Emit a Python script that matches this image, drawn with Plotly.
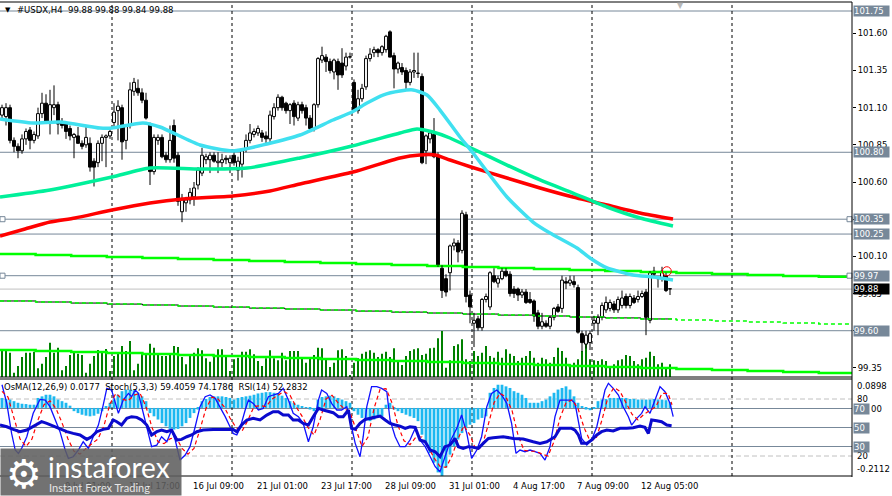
import plotly.graph_objects as go

W, H = 892, 496

# --- #USDX H4 candles ---
opens = [101.05, 101.04, 101.10, 100.88, 100.84, 100.81, 100.89, 100.95, 100.88, 100.91,
         101.06, 101.13, 101.00, 101.10, 101.12, 101.00, 100.99, 100.96, 100.90, 100.91,
         100.86, 100.85, 100.86, 100.74, 100.73, 100.86, 100.90, 100.91, 101.00, 101.08,
         101.10, 100.88, 100.98, 101.21, 101.23, 101.20, 101.15, 100.99, 100.67, 100.88,
         100.90, 100.78, 100.75, 100.98, 100.78, 100.40, 100.46, 100.48, 100.50, 100.58,
         100.66, 100.75, 100.75, 100.78, 100.73, 100.73, 100.76, 100.73, 100.78, 100.68,
         100.72, 100.82, 100.88, 100.92, 100.93, 100.93, 100.91, 100.89, 101.04, 101.10,
         101.17, 101.13, 101.08, 101.13, 101.03, 101.12, 101.10, 101.03, 100.96, 101.12,
         101.42, 101.44, 101.41, 101.34, 101.41, 101.40, 101.38, 101.44, 101.27, 101.08,
         101.16, 101.24, 101.43, 101.47, 101.49, 101.47, 101.49, 101.61, 101.45, 101.36,
         101.37, 101.35, 101.27, 101.34, 101.33, 101.31, 100.81, 100.89, 100.92, 100.78,
         100.02, 99.95, 99.99, 100.17, 100.19, 100.14, 100.38, 99.84, 99.65, 99.68,
         99.62, 99.81, 99.76, 99.97, 99.92, 99.95, 100.00, 99.98, 99.88, 99.88,
         99.84, 99.86, 99.81, 99.80, 99.72, 99.63, 99.65, 99.63, 99.69, 99.76,
         99.75, 99.93, 99.92, 99.93, 99.89, 99.58, 99.51, 99.52, 99.65, 99.65,
         99.69, 99.74, 99.75, 99.78, 99.74, 99.77, 99.83, 99.77, 99.82, 99.81,
         99.83, 99.86, 99.67, 100.00, 99.96, 99.95, 99.97, 99.88]
highs = [101.12, 101.13, 101.12, 100.90, 100.86, 100.92, 100.96, 100.97, 100.94, 101.10,
         101.20, 101.19, 101.22, 101.25, 101.14, 101.03, 101.01, 100.98, 100.93, 100.97,
         100.88, 100.97, 100.90, 100.76, 100.88, 100.92, 100.92, 100.97, 101.13, 101.15,
         101.12, 100.99, 101.27, 101.30, 101.29, 101.23, 101.20, 101.00, 100.92, 100.92,
         100.92, 100.80, 100.98, 101.02, 100.80, 100.52, 100.50, 100.56, 100.60, 100.70,
         100.83, 100.79, 100.80, 100.80, 100.80, 100.79, 100.78, 100.78, 100.82, 100.77,
         100.82, 100.92, 100.99, 100.96, 100.98, 100.95, 100.94, 101.08, 101.13, 101.19,
         101.18, 101.14, 101.13, 101.15, 101.14, 101.14, 101.12, 101.05, 101.13, 101.44,
         101.51, 101.46, 101.43, 101.43, 101.43, 101.50, 101.47, 101.47, 101.29, 101.22,
         101.26, 101.45, 101.50, 101.51, 101.50, 101.52, 101.59, 101.62, 101.47, 101.41,
         101.40, 101.37, 101.36, 101.47, 101.47, 101.33, 100.92, 100.95, 101.03, 100.80,
         100.04, 99.98, 100.18, 100.22, 100.21, 100.41, 100.40, 99.87, 99.72, 99.70,
         99.82, 99.85, 100.00, 100.02, 99.97, 100.02, 100.02, 100.00, 99.90, 99.89,
         99.88, 99.88, 99.86, 99.81, 99.74, 99.72, 99.67, 99.70, 99.76, 99.78,
         99.97, 99.96, 99.97, 99.97, 99.91, 99.60, 99.60, 99.60, 99.70, 99.71,
         99.79, 99.83, 99.81, 99.80, 99.83, 99.87, 99.85, 99.85, 99.84, 99.87,
         99.87, 99.88, 100.00, 100.03, 99.96, 100.03, 99.99, 99.88]
lows = [101.02, 100.98, 100.86, 100.80, 100.76, 100.79, 100.85, 100.82, 100.86, 100.89,
        101.03, 100.99, 100.92, 101.05, 100.92, 100.96, 100.89, 100.88, 100.76, 100.86,
        100.82, 100.83, 100.67, 100.57, 100.70, 100.74, 100.70, 100.89, 100.96, 100.88,
        100.75, 100.82, 100.96, 101.18, 101.18, 101.13, 101.02, 100.58, 100.65, 100.85,
        100.76, 100.73, 100.73, 100.73, 100.44, 100.33, 100.40, 100.45, 100.44, 100.55,
        100.64, 100.72, 100.66, 100.73, 100.66, 100.70, 100.72, 100.66, 100.71, 100.61,
        100.63, 100.80, 100.86, 100.90, 100.91, 100.87, 100.85, 100.87, 101.02, 101.08,
        101.08, 101.06, 100.99, 100.98, 101.01, 101.06, 100.98, 100.94, 100.94, 101.10,
        101.40, 101.34, 101.33, 101.29, 101.22, 101.30, 101.35, 101.43, 101.08, 101.06,
        101.14, 101.22, 101.41, 101.44, 101.44, 101.45, 101.47, 101.44, 101.23, 101.33,
        101.32, 101.22, 101.25, 101.30, 101.30, 100.72, 100.72, 100.86, 100.76, 100.03,
        99.82, 99.83, 99.87, 100.14, 100.06, 100.12, 99.79, 99.65, 99.49, 99.60,
        99.60, 99.79, 99.74, 99.92, 99.89, 99.94, 99.96, 99.83, 99.82, 99.80,
        99.82, 99.78, 99.78, 99.66, 99.61, 99.61, 99.62, 99.61, 99.67, 99.72,
        99.72, 99.88, 99.90, 99.89, 99.58, 99.46, 99.48, 99.47, 99.60, 99.57,
        99.67, 99.72, 99.73, 99.72, 99.72, 99.75, 99.75, 99.75, 99.78, 99.79,
        99.82, 99.57, 99.65, 99.96, 99.89, 99.93, 99.86, 99.84]
closes = [101.10, 101.10, 100.88, 100.84, 100.81, 100.89, 100.94, 100.88, 100.92, 101.06,
          101.13, 101.00, 101.12, 101.12, 100.99, 100.98, 100.94, 100.91, 100.92, 100.86,
          100.84, 100.90, 100.70, 100.70, 100.86, 100.90, 100.91, 100.94, 101.07, 101.11,
          100.87, 100.98, 101.22, 101.27, 101.20, 101.15, 101.03, 100.67, 100.90, 100.90,
          100.77, 100.75, 100.88, 100.76, 100.47, 100.48, 100.48, 100.53, 100.56, 100.68,
          100.78, 100.77, 100.78, 100.74, 100.74, 100.75, 100.75, 100.76, 100.73, 100.74,
          100.81, 100.88, 100.93, 100.94, 100.96, 100.90, 100.89, 101.05, 101.10, 101.17,
          101.10, 101.08, 101.12, 101.04, 101.12, 101.08, 101.03, 100.96, 101.12, 101.43,
          101.45, 101.41, 101.35, 101.42, 101.32, 101.32, 101.44, 101.44, 101.08, 101.16,
          101.23, 101.43, 101.46, 101.49, 101.47, 101.51, 101.58, 101.44, 101.36, 101.40,
          101.34, 101.27, 101.34, 101.35, 101.33, 100.73, 100.91, 100.93, 100.77, 100.04,
          99.87, 99.86, 100.17, 100.19, 100.13, 100.39, 99.83, 99.76, 99.67, 99.62,
          99.81, 99.83, 99.99, 99.93, 99.95, 100.00, 99.97, 99.85, 99.85, 99.84,
          99.86, 99.79, 99.79, 99.70, 99.63, 99.66, 99.63, 99.69, 99.75, 99.73,
          99.94, 99.92, 99.94, 99.91, 99.59, 99.52, 99.57, 99.58, 99.67, 99.69,
          99.77, 99.79, 99.79, 99.74, 99.81, 99.82, 99.77, 99.83, 99.79, 99.83,
          99.85, 99.69, 99.99, 99.98, 99.95, 100.00, 99.87, 99.88]

volumes = [780, 780, 730, 130, 330, 600, 730, 730, 760, 260, 400, 600, 1030, 730, 880, 200,
           330, 660, 730, 700, 660, 130, 400, 630, 810, 780, 840, 180, 630, 730, 930, 780,
           1080, 200, 400, 680, 700, 1000, 880, 680, 630, 630, 680, 930, 900, 600, 380, 630,
           730, 860, 800, 560, 460, 660, 830, 830, 660, 180, 530, 580, 760, 760, 830, 680,
           480, 330, 560, 800, 560, 500, 730, 500, 780, 780, 780, 560, 430, 560, 660, 880,
           860, 560, 300, 430, 800, 830, 630, 60, 430, 560, 700, 760, 800, 730, 600, 700,
           760, 600, 860, 460, 360, 630, 780, 830, 860, 660, 700, 860, 880, 1160, 1380, 280,
           500, 930, 980, 1130, 530, 480, 780, 630, 730, 930, 630, 580, 760, 580, 830, 700,
           630, 480, 580, 630, 780, 580, 430, 580, 530, 430, 600, 880, 780, 580, 380, 430,
           530, 780, 1080, 530, 500, 480, 530, 480, 280, 380, 500, 530, 660, 630, 480, 380,
           530, 580, 760, 630, 380, 430, 280, 380]

# moving averages (sampled along the drawn curves)
ma_fast_x = [-0.5, 7.75, 14.5, 24.5, 27.5, 35.25, 39.5, 49.5, 57.75, 66.25, 74.5, 82.75,
             87.5, 91.25, 95.25, 99.5, 102.75, 106.25, 109.5, 114.5, 117.75, 126.25, 132.75,
             137, 143.75, 147, 151.25, 157.75, 162.75, 167.75]
ma_fast = [101.024, 100.997, 101.004, 100.963, 100.963, 100.997, 100.970, 100.849, 100.809,
           100.856, 100.916, 101.017, 101.071, 101.131, 101.185, 101.212, 101.219, 101.185,
           101.084, 100.903, 100.795, 100.499, 100.331, 100.257, 100.156, 100.089, 100.022,
           99.975, 99.961, 99.941]
ma_mid_x = [-0.5, 12, 27.5, 37, 49.5, 61.25, 74.5, 87.5, 99.5, 103.75, 107.75, 112, 117.25,
            126.25, 134.5, 142.75, 151.25, 159.5, 167.75]
ma_mid = [100.499, 100.546, 100.634, 100.694, 100.687, 100.694, 100.762, 100.842, 100.930,
          100.957, 100.936, 100.896, 100.829, 100.714, 100.614, 100.526, 100.432, 100.358,
          100.304]
ma_slow_x = [-0.5, 5.75, 12, 18.25, 27.5, 37, 45.25, 57.75, 67, 74.5, 87.75, 99.5, 104.5,
             108.25, 112, 117.25, 126.25, 134.5, 142.75, 151.25, 159.5, 167.75]
ma_slow = [100.237, 100.284, 100.331, 100.358, 100.412, 100.459, 100.486, 100.506, 100.540,
           100.587, 100.667, 100.762, 100.782, 100.782, 100.748, 100.701, 100.627, 100.560,
           100.499, 100.445, 100.392, 100.351]

# higher-timeframe averages (stepped)
step_x = [-0.5, 8.4, 17.3, 26.2, 35.1, 44.0, 52.9, 61.8, 70.7, 79.6, 88.5, 97.4, 106.3,
          115.2, 124.1, 133.0, 141.9, 150.8, 159.7, 168.6, 177.5, 186.4, 195.3, 204.2, 212.5]
htf_a = [100.116, 100.109, 100.102, 100.096, 100.089, 100.082, 100.075, 100.069, 100.062,
         100.055, 100.049, 100.042, 100.035, 100.028, 100.022, 100.015, 100.008, 100.002,
         99.995, 99.988, 99.981, 99.975, 99.968, 99.963, 99.963]
htf_b = [99.800, 99.793, 99.786, 99.779, 99.773, 99.766, 99.759, 99.752, 99.746, 99.739,
         99.732, 99.725, 99.719, 99.712, 99.705, 99.699, 99.692, 99.686, 99.679, 99.672,
         99.665, 99.658, 99.652, 99.645, 99.645]
htf_c = [99.470, 99.463, 99.457, 99.450, 99.443, 99.436, 99.430, 99.423, 99.416, 99.410,
         99.403, 99.396, 99.389, 99.383, 99.376, 99.369, 99.363, 99.356, 99.349, 99.342,
         99.336, 99.329, 99.322, 99.316, 99.316]

# OsMA(12,26,9) histogram
osma = [0.031, 0.028, 0.026, 0.021, 0.016, 0.013, 0.012, 0.010, 0.010, 0.031, 0.036, 0.041,
        0.041, 0.036, 0.026, 0.021, 0.016, 0.007, -0.010, -0.016, -0.021, -0.024, -0.026,
        -0.024, -0.018, -0.010, 0.005, 0.016, 0.026, 0.041, 0.052, 0.057, 0.057, 0.055, 0.047,
        0.036, 0.021, -0.016, -0.026, -0.036, -0.047, -0.057, -0.065, -0.067, -0.065, -0.057,
        -0.047, -0.031, -0.016, -0.005, 0.021, 0.028, 0.034, 0.036, 0.036, 0.036, 0.034, 0.031,
        0.026, 0.031, 0.034, 0.036, 0.038, 0.041, 0.045, 0.047, 0.049, 0.049, 0.047, 0.045,
        0.038, 0.031, 0.021, 0.016, 0.010, 0.005, 0.001, -0.005, -0.010, 0.026, 0.034, 0.036,
        0.038, 0.036, 0.031, 0.026, 0.021, 0.016, -0.010, -0.021, -0.031, -0.036, -0.041,
        -0.036, -0.031, -0.026, 0.010, 0.016, -0.005, -0.010, -0.016, -0.021, -0.026, -0.031,
        -0.041, -0.083, -0.110, -0.140, -0.170, -0.200, -0.211, -0.185, -0.145, -0.119, -0.098,
        -0.078, -0.062, -0.052, -0.047, -0.036, -0.031, -0.026, 0.047, 0.062, 0.072, 0.072,
        0.067, 0.062, 0.052, 0.047, 0.041, 0.031, 0.016, 0.016, 0.016, 0.021, 0.026, 0.036,
        0.047, 0.057, 0.062, 0.067, 0.057, 0.036, 0.016, 0.005, -0.005, -0.007, -0.003, 0.021,
        0.026, 0.028, 0.031, 0.031, 0.031, 0.031, 0.031, 0.028, 0.028, 0.026, 0.026, 0.026,
        0.026, 0.028, 0.026, 0.026, 0.024, 0.018]

# Stochastic(5,3,3) main and signal
stoch_x = [0, 1.2, 2.4, 3.3, 4.1, 4.9, 6.2, 7.8, 9.5, 10.8, 12.0, 13.3, 14.5, 15.8, 16.6,
           17.8, 19.1, 20.3, 21.6, 22.8, 24.1, 25.3, 26.2, 27.4, 28.3, 29.1, 30.3, 31.6, 32.4,
           33.3, 34.1, 34.9, 36.2, 37.4, 38.7, 39.9, 41.2, 42.4, 43.3, 44.5, 45.8, 47.0, 48.3,
           49.5, 50.8, 52.0, 53.3, 54.5, 55.8, 57.0, 57.8, 58.7, 59.5, 60.8, 61.6, 62.8, 64.1,
           65.3, 66.6, 67.8, 69.1, 70.3, 71.6, 72.8, 74.1, 75.3, 76.6, 77.8, 79.1, 79.9, 81.2,
           82.4, 83.7, 84.9, 86.2, 87.0, 88.3, 89.5, 90.3, 91.2, 92.4, 93.7, 94.9, 96.2, 97.0,
           98.3, 99.5, 100.8, 102.0, 103.3, 104.5, 105.8, 107.0, 108.3, 109.5, 110.75, 112.0,
           113.7, 114.9, 116.2, 117.4, 118.7, 119.9, 121.2, 122.4, 123.7, 124.9, 126.2, 127.4,
           128.5, 129.5, 130.75, 132.0, 133.25, 134.5, 135.75, 137.0, 138.25, 139.5, 141.2,
           142.4, 143.25, 144.1, 144.9, 146.2, 147.4, 148.7, 149.9, 150.75, 151.6, 152.8,
           154.1, 155.3, 156.6, 157.4, 158.7, 159.9, 160.75, 162.0, 163.25, 164.5, 165.75,
           167.0, 167.8]
stoch_main = [95, 75.4, 43.8, 26.3, 22.8, 28.0, 40.3, 64.9, 79.6, 78.9, 71.9, 57.9, 45.6,
              26.3, 17.5, 19.2, 26.3, 35.0, 28.0, 40.3, 52.6, 73.6, 91.2, 89.4, 75.4, 64.9,
              78.9, 85.9, 82.4, 89.4, 85.9, 71.9, 49.1, 29.8, 31.5, 40.3, 35.0, 47.3, 36.8,
              15.7, 21.0, 29.8, 50.8, 71.9, 82.4, 84.2, 80.7, 71.9, 61.4, 50.8, 43.8, 42.1,
              49.1, 68.4, 78.9, 75.4, 68.4, 70.1, 82.4, 84.2, 85.9, 91.2, 78.9, 64.9, 61.4,
              54.3, 35.0, 50.8, 78.9, 89.4, 85.9, 75.4, 68.4, 68.4, 71.9, 57.9, 33.3, 19.2,
              40.3, 71.9, 93.0, 93.0, 91.2, 87.7, 57.9, 40.3, 29.8, 29.8, 36.8, 49.1, 36.8,
              29.8, 19.2, 8.7, 3.4, 19.2, 35.0, 49.1, 63.1, 43.8, 17.5, 26.3, 40.3, 71.9, 85.9,
              89.4, 84.2, 75.4, 54.3, 22.8, 26.3, 24.5, 26.3, 24.5, 22.8, 15.7, 29.8, 61.4,
              78.9, 78.9, 78.9, 75.4, 57.9, 38.5, 31.5, 36.8, 50.8, 75.4, 89.4, 96.5, 91.2,
              84.2, 71.9, 61.4, 52.6, 59.6, 64.9, 71.9, 64.9, 78.9, 93.0, 87.7, 75.4, 61.4]
sig_x = [0, 1.5, 3, 4.5, 6, 7.5, 9, 10.5, 12, 13.5, 15, 16.5, 18, 19.5, 21, 22.5, 24, 25.5,
         27, 28.5, 30, 31.5, 33, 34.5, 36, 37.5, 39, 40.5, 42, 43.5, 45, 46.5, 48, 49.5, 51,
         52.5, 54, 55.5, 57, 58.5, 60, 61.5, 63, 64.5, 66, 67.5, 69, 70.5, 72, 73.5, 75, 76.5,
         78, 79.5, 81, 82.5, 84, 85.5, 87, 88.5, 90, 91.5, 93, 94.5, 96, 97.5, 99, 100.5, 102,
         103.5, 105, 106.5, 108, 109.5, 111, 112.5, 114, 115.5, 117, 118.5, 120, 121.5, 123,
         124.5, 126, 127.5, 129, 130.5, 132, 133.5, 135, 136.5, 138, 139.5, 141, 142.5, 144,
         145.5, 147, 148.5, 150, 151.5, 153, 154.5, 156, 157.5, 159, 160.5, 162, 163.5, 165,
         166.5, 167.5]
stoch_sig = [88, 82, 60, 38, 30, 38, 58, 74, 78, 70, 55, 38, 25, 22, 28, 33, 38, 52, 75, 86,
             80, 78, 84, 86, 72, 50, 35, 33, 38, 40, 28, 22, 28, 48, 70, 82, 80, 72, 60, 50,
             46, 58, 72, 73, 72, 80, 84, 88, 84, 72, 62, 50, 42, 58, 80, 84, 76, 70, 66, 48,
             30, 40, 70, 90, 91, 76, 52, 36, 32, 40, 40, 30, 18, 9, 8, 20, 38, 52, 42, 26, 30,
             52, 76, 86, 82, 68, 42, 26, 25, 25, 22, 20, 35, 60, 76, 79, 70, 50, 36, 38, 58,
             82, 92, 88, 76, 64, 58, 64, 68, 72, 86, 86, 74]

# RSI(14)
rsi_x = [-0.5, 1.2, 2.8, 4.5, 6.2, 7.8, 9.1, 9.9, 11.2, 12.8, 14.5, 16.2, 17.8, 19.5, 21.2,
         22.4, 23.7, 25.3, 26.6, 27.8, 28.7, 29.9, 31.2, 32.4, 33.7, 34.9, 36.2, 37.4, 38.7,
         39.9, 41.2, 42.4, 43.7, 44.9, 46.2, 47.4, 48.7, 50.3, 52.8, 57.8, 58.7, 59.9, 61.2,
         62.8, 64.5, 66.2, 67.8, 69.1, 70.3, 71.6, 72.8, 74.1, 75.3, 76.6, 77.8, 79.1, 80.3,
         81.6, 82.8, 84.1, 85.3, 86.6, 87.4, 88.3, 89.5, 90.8, 92.0, 93.3, 94.5, 95.8, 97.0,
         98.3, 99.5, 100.8, 102.0, 103.3, 104.5, 105.8, 107.0, 108.3, 109.5, 110.75, 112.0,
         113.25, 114.1, 115.3, 116.6, 117.8, 119.1, 120.3, 121.6, 122.8, 125.3, 127.8, 130.3,
         132.8, 134.5, 136.2, 137.0, 138.25, 139.5, 140.75, 142.4, 143.25, 144.1, 144.9,
         146.2, 147.4, 148.7, 149.9, 151.2, 152.8, 154.5, 156.2, 157.8, 159.5, 160.75, 161.6,
         162.4, 163.7, 164.9, 166.2, 167.4]
rsi = [52.6, 50.8, 48.0, 45.6, 47.3, 50.8, 54.3, 56.1, 54.3, 51.5, 48.0, 45.6, 43.8, 42.1,
       37.5, 40.3, 45.6, 48.0, 49.1, 57.9, 56.1, 52.6, 59.6, 61.4, 60.7, 57.9, 52.6, 42.1,
       45.6, 47.3, 45.6, 47.3, 36.8, 37.5, 40.3, 42.1, 45.6, 47.3, 48.0, 48.0, 45.6, 52.6,
       57.9, 59.6, 57.9, 63.1, 66.6, 66.6, 63.1, 63.1, 57.9, 57.9, 54.3, 52.6, 61.4, 70.1,
       68.4, 66.6, 65.6, 61.4, 61.4, 68.4, 49.1, 48.0, 54.3, 58.5, 59.6, 61.4, 62.1, 57.9,
       54.3, 52.6, 51.5, 49.1, 50.8, 50.1, 36.8, 35.0, 26.3, 24.5, 19.2, 29.8, 31.5, 38.5,
       29.8, 28.0, 29.8, 29.1, 28.0, 33.3, 38.5, 39.2, 40.3, 38.5, 37.8, 35.0, 33.3, 35.0,
       36.8, 40.3, 49.1, 49.1, 49.1, 47.3, 42.1, 33.3, 33.3, 36.8, 42.1, 45.6, 47.3, 46.3,
       49.1, 49.1, 49.8, 51.5, 50.1, 43.8, 57.9, 57.2, 56.1, 52.6, 51.9]

# price levels, axis labels, separators
levels = [101.75, 100.80, 100.35, 100.25, 99.97, 99.60]
bid = 99.88
price_ticks = [99.35, 99.60, 99.85, 100.10, 100.35, 100.60, 100.85, 101.10, 101.35, 101.60]
separators = [27.5, 57.5, 87.5, 117.5, 147.5, 182.5]
time_pos = [-1.3, 15.3, 31.3, 47.3, 63.3, 79.3, 95.3, 111.3, 127.3, 143.3, 159.3]
time_labels = ["6 Jul 2026", "9 Jul 01:00", "13 Jul 17:00", "16 Jul 09:00", "21 Jul 01:00",
               "23 Jul 17:00", "28 Jul 09:00", "31 Jul 01:00", "4 Aug 17:00", "7 Aug 09:00",
               "12 Aug 05:00"]

FONT = "DejaVu Sans"
SLATE = "#778899"
XR = 852 / W


def py(y):
    return 1 - y / H


bars = list(range(len(closes)))
fig = go.Figure()

# volumes in the bottom of the price window
fig.add_trace(go.Bar(x=bars, y=volumes, width=0.28, marker=dict(color="#008000", line_width=0),
                     xaxis="x", yaxis="y"))

# higher timeframe lines
fig.add_trace(go.Scatter(x=step_x, y=htf_c, mode="lines", line=dict(color="#00ff00", width=2.5, shape="hv"),
                         xaxis="x", yaxis="y2"))
past_x = [x for x in step_x if x <= 167] + [167.5]
past_b = htf_b[:len(past_x) - 1] + [htf_b[len(past_x) - 2]]
fig.add_trace(go.Scatter(x=past_x, y=past_b, mode="lines", line=dict(color="black", width=1, shape="hv"),
                         xaxis="x", yaxis="y2"))
fig.add_trace(go.Scatter(x=step_x, y=htf_b, mode="lines",
                         line=dict(color="#00ff00", width=1.5, shape="hv", dash="4px,3px"),
                         xaxis="x", yaxis="y2"))
fig.add_trace(go.Scatter(x=step_x, y=htf_a, mode="lines", line=dict(color="#00ff00", width=2.5, shape="hv"),
                         xaxis="x", yaxis="y2"))

# candles: wicks split around the body, then bodies as bars
wx, wy = [], []
for i in bars:
    top, bot = max(opens[i], closes[i]), min(opens[i], closes[i])
    wx += [i, i, None, i, i, None]
    wy += [highs[i], top, None, bot, lows[i], None]
fig.add_trace(go.Scatter(x=wx, y=wy, mode="lines", line=dict(color="black", width=1),
                         xaxis="x", yaxis="y2"))
body_base = [min(o, c) for o, c in zip(opens, closes)]
body_h = [max(abs(c - o), 0.003) for o, c in zip(opens, closes)]
body_col = ["white" if c >= o else "black" for o, c in zip(opens, closes)]
fig.add_trace(go.Bar(x=bars, y=body_h, base=body_base, width=0.72,
                     marker=dict(color=body_col, line=dict(color="black", width=1)),
                     xaxis="x", yaxis="y2"))

# moving averages
for xs, ys, col in [(ma_slow_x, ma_slow, "#ff0000"), (ma_mid_x, ma_mid, "#00f09a"),
                    (ma_fast_x, ma_fast, "#40e0f0")]:
    fig.add_trace(go.Scatter(x=xs, y=ys, mode="lines",
                             line=dict(color=col, width=3.5, shape="spline", smoothing=0.6),
                             xaxis="x", yaxis="y2"))

# alert mark on the last high
fig.add_trace(go.Scatter(x=[166.2], y=[100.0], mode="markers",
                         marker=dict(symbol="circle-open", size=9, color="red", line_width=1),
                         xaxis="x", yaxis="y2"))

# lower window: OsMA, Stochastic, RSI
fig.add_trace(go.Bar(x=bars, y=osma, width=0.7, marker=dict(color="#1cb8f0", line_width=0),
                     xaxis="x", yaxis="y3"))
fig.add_trace(go.Scatter(x=stoch_x, y=stoch_main, mode="lines", line=dict(color="#1010ff", width=1.3),
                         xaxis="x", yaxis="y4"))
fig.add_trace(go.Scatter(x=sig_x, y=stoch_sig, mode="lines",
                         line=dict(color="#ff0000", width=1.2, dash="4px,3px"),
                         xaxis="x", yaxis="y4"))
fig.add_trace(go.Scatter(x=rsi_x, y=rsi, mode="lines", line=dict(color="#0a0acd", width=3),
                         xaxis="x", yaxis="y4"))

shapes = []
for lv in levels:
    shapes.append(dict(type="line", xref="paper", x0=0, x1=XR, yref="y2", y0=lv, y1=lv,
                       line=dict(color=SLATE, width=1), layer="below"))
shapes.append(dict(type="line", xref="paper", x0=0, x1=XR, yref="y2", y0=bid, y1=bid,
                   line=dict(color="#c0c0c0", width=1), layer="below"))
for lv in [100.35, 99.97]:
    for xp in [0, 847]:
        shapes.append(dict(type="rect", xref="paper", x0=xp / W, x1=(xp + 5) / W, yref="y2",
                           y0=lv - 0.017, y1=lv + 0.017, fillcolor="white",
                           line=dict(color=SLATE, width=1)))
for lv, dash, col in [(80, "5px,3px", "#c0c0c0"), (70, "solid", SLATE), (50, "solid", SLATE),
                      (30, "solid", SLATE), (20, "5px,3px", "#c0c0c0")]:
    shapes.append(dict(type="line", xref="paper", x0=0, x1=XR, yref="y4", y0=lv, y1=lv,
                       line=dict(color=col, width=1, dash=dash), layer="below"))
for sx in separators:
    shapes.append(dict(type="line", xref="x", x0=sx, x1=sx, yref="paper", y0=py(476), y1=py(2),
                       line=dict(color="black", width=1, dash="3px,3px"), layer="below"))
# window frames
for yy in [2, 377, 379, 476]:
    shapes.append(dict(type="line", xref="paper", x0=0, x1=XR, yref="paper", y0=py(yy), y1=py(yy),
                       line=dict(color="black", width=1)))
shapes.append(dict(type="line", xref="paper", x0=XR, x1=XR, yref="paper", y0=py(477), y1=py(2),
                   line=dict(color="black", width=1)))

ann = []
# boxed price labels
for lv, bg in [(101.75, SLATE), (100.80, SLATE), (100.35, SLATE), (100.25, SLATE),
               (99.97, SLATE), (99.60, SLATE), (bid, "black")]:
    ann.append(dict(xref="paper", x=853 / W, xanchor="left", yref="y2", y=lv, yanchor="middle",
                    text=f"{lv:.2f}", showarrow=False, bgcolor=bg, width=35, height=10,
                    borderpad=0, align="left", font=dict(family=FONT, size=8.5, color="white")))
# lower window scale
for txt, yv, ref in [("0.0898", 0.0898 - 0.021, "y3"), ("80", 80, "y4"), ("20", 20, "y4"),
                     ("-0.2112", -0.2112 + 0.021, "y3")]:
    ann.append(dict(xref="paper", x=855 / W, xanchor="left", yref=ref, y=yv, yanchor="middle",
                    text=txt, showarrow=False, font=dict(family=FONT, size=8.5, color="black")))
ann.append(dict(xref="paper", x=869 / W, xanchor="left", yref="y4", y=70, yanchor="middle",
                text="00", showarrow=False, font=dict(family=FONT, size=8.5, color="black")))
for v in [70, 50, 30]:
    ann.append(dict(xref="paper", x=853 / W, xanchor="left", yref="y4", y=v, yanchor="middle",
                    text=str(v), showarrow=False, bgcolor=SLATE, width=15, height=10, borderpad=0,
                    align="left", font=dict(family=FONT, size=8.5, color="white")))
# time labels
for xp, t in zip(time_pos, time_labels):
    ann.append(dict(xref="x", x=xp, xanchor="left", yref="paper", y=py(486), yanchor="middle",
                    text=t, showarrow=False, font=dict(family=FONT, size=8.5, color="black")))
# headers
ann.append(dict(xref="paper", x=3 / W, xanchor="left", yref="paper", y=py(10), yanchor="middle",
                text="▼", showarrow=False, font=dict(family=FONT, size=7, color="black")))
ann.append(dict(xref="paper", x=15 / W, xanchor="left", yref="paper", y=py(10), yanchor="middle",
                text="#USDX,H4  99.88 99.88 99.84 99.88", showarrow=False,
                font=dict(family=FONT, size=8.5, color="black")))
ann.append(dict(xref="paper", x=2 / W, xanchor="left", yref="paper", y=py(387), yanchor="middle",
                text="OsMA(12,26,9) 0.0177  Stoch(5,3,3) 59.4059 74.1786  RSI(14) 52.2832",
                showarrow=False, font=dict(family=FONT, size=8.5, color="black")))
ann.append(dict(xref="paper", x=680 / W, xanchor="center", yref="paper", y=py(5), yanchor="middle",
                text="▼", showarrow=False, font=dict(family=FONT, size=8, color="#b8b8b8")))
# watermark
ann.append(dict(xref="paper", x=0, xanchor="left", yref="paper", y=0, yanchor="bottom", text=" ",
                showarrow=False, width=180, height=46, borderpad=0, bgcolor="rgba(95,95,95,0.88)"))
ann.append(dict(xref="paper", x=24 / W, xanchor="center", yref="paper", y=py(474), yanchor="middle",
                text="⚙", showarrow=False, font=dict(family=FONT, size=40, color="white")))
ann.append(dict(xref="paper", x=46 / W, xanchor="left", yref="paper", y=py(467), yanchor="middle",
                text="instaforex", showarrow=False, font=dict(family="Lato", size=28, color="white")))
ann.append(dict(xref="paper", x=47 / W, xanchor="left", yref="paper", y=py(487), yanchor="middle",
                text="Instant Forex Trading", showarrow=False,
                font=dict(family="Lato", size=11, color="#e6e6e6")))

fig.update_layout(
    width=W, height=H, margin=dict(l=0, r=0, t=0, b=0),
    paper_bgcolor="white", plot_bgcolor="white", showlegend=False, barmode="overlay",
    xaxis=dict(domain=[0, XR], range=[-0.5, 212.5], visible=False, anchor="y3"),
    yaxis=dict(domain=[py(377), py(2)], range=[0, 11250], visible=False),
    yaxis2=dict(overlaying="y", range=[99.2887, 101.8106], side="right", anchor="x",
                tickvals=price_ticks, tickformat=".2f", ticks="outside", ticklen=3,
                tickcolor="black", showgrid=False, zeroline=False, showline=False,
                tickfont=dict(family=FONT, size=8.5, color="black")),
    yaxis3=dict(domain=[py(476), py(379)], range=[-0.2112, 0.0898], visible=False),
    yaxis4=dict(overlaying="y3", range=[-1.05, 101.05], visible=False),
    shapes=shapes, annotations=ann,
)

# the page gets no default body margin so the figure sits at the window corner
fig.write_html("out.html", config={"displayModeBar": False},
               post_script="document.body.style.margin='0px';")
